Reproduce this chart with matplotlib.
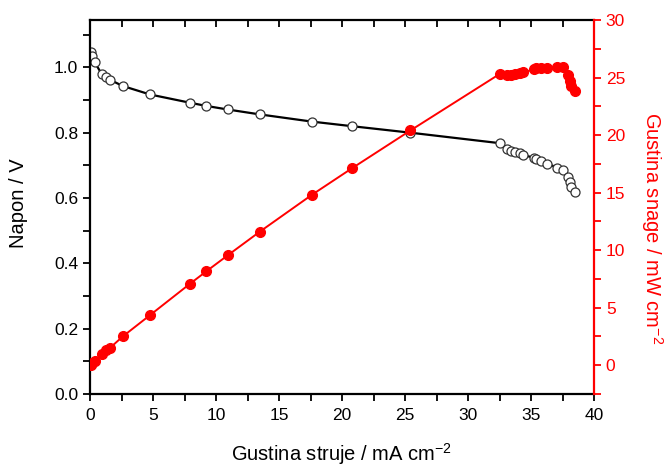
import matplotlib.pyplot as plt
import numpy as np
from matplotlib.ticker import MultipleLocator

plt.rcParams['font.family'] = ['Liberation Sans', 'DejaVu Sans']
plt.rcParams['mathtext.default'] = 'regular'

# current density (mA cm-2), voltage (V), power density (mW cm-2)
current = [0.05, 0.15, 0.37, 0.92, 1.27, 1.58, 2.6, 4.76, 7.9, 9.22, 10.93, 13.47,
           17.6, 20.77, 25.43, 32.5, 33.07, 33.4, 33.7, 34.1, 34.4, 35.2, 35.4,
           35.8, 36.3, 37.1, 37.5, 37.9, 38.07, 38.2, 38.47]
voltage = [1.047, 1.035, 1.016, 0.98, 0.972, 0.962, 0.943, 0.917, 0.892, 0.882,
           0.871, 0.856, 0.834, 0.820, 0.800, 0.768, 0.751, 0.744, 0.741, 0.738,
           0.731, 0.724, 0.718, 0.713, 0.705, 0.693, 0.685, 0.665, 0.649, 0.634, 0.617]
power = [0.05, 0.16, 0.38, 0.95, 1.3, 1.5, 2.5, 4.35, 7.05, 8.15, 9.55, 11.6,
         14.8, 17.1, 20.4, 25.3, 25.2, 25.2, 25.3, 25.4, 25.45, 25.7, 25.8,
         25.8, 25.8, 25.9, 25.9, 25.2, 24.7, 24.3, 23.8]

fig = plt.figure(figsize=(6.66, 4.66), dpi=100)
ax = fig.add_axes([90/666, 1-394/466, (594-90)/666, (394-20)/466])
ax2 = ax.twinx()

ax.plot(current, voltage, '-', color='black', lw=1.6, marker='o', ms=6.5,
        mfc='white', mec='#333333', mew=0.9)
ax2.plot(current, power, '-', color='red', lw=1.4, marker='o', ms=7,
         mfc='red', mec='red')

ax.set_xlim(0, 40)
ax.set_ylim(0, 1.145)
ax2.set_ylim(-2.5, 30)

ax.xaxis.set_major_locator(MultipleLocator(5))
ax.xaxis.set_minor_locator(MultipleLocator(2.5))
ax.yaxis.set_major_locator(MultipleLocator(0.2))
ax.yaxis.set_minor_locator(MultipleLocator(0.1))
ax2.yaxis.set_major_locator(MultipleLocator(5))
ax2.yaxis.set_minor_locator(MultipleLocator(2.5))
ax.yaxis.set_major_formatter(plt.FormatStrFormatter('%.1f'))

ax.tick_params(axis='x', which='both', direction='out', top=True, labelsize=12.5,
               width=1.3, length=5, pad=5)
ax.tick_params(axis='y', which='both', direction='out', right=False, labelsize=12.5,
               width=1.3, length=5)
ax2.tick_params(axis='y', which='both', direction='out', colors='red', labelsize=12.5,
                width=1.3, length=5)
# top ticks point inward
for t in ax.xaxis.get_major_ticks() + ax.xaxis.get_minor_ticks():
    t.tick2line.set_marker(3)

for s in ['left', 'bottom', 'top']:
    ax.spines[s].set_linewidth(1.6)
ax.spines['right'].set_visible(False)
ax2.spines['right'].set_color('red')
ax2.spines['right'].set_linewidth(1.6)
for s in ['left', 'bottom', 'top']:
    ax2.spines[s].set_visible(False)

fig.text(342/666, 1-461/466, 'Gustina struje / mA cm$^{-2}$', ha='center',
         va='baseline', fontsize=14.5)
fig.text(19/666, 1-203/466, 'Napon / V', rotation=90, ha='center', va='center',
         fontsize=14.5)
fig.text(652/666, 1-228/466, 'Gustina snage / mW cm$^{-2}$', rotation=270,
         ha='center', va='center', fontsize=14.5, color='red')

plt.savefig('out.png', dpi=100)
